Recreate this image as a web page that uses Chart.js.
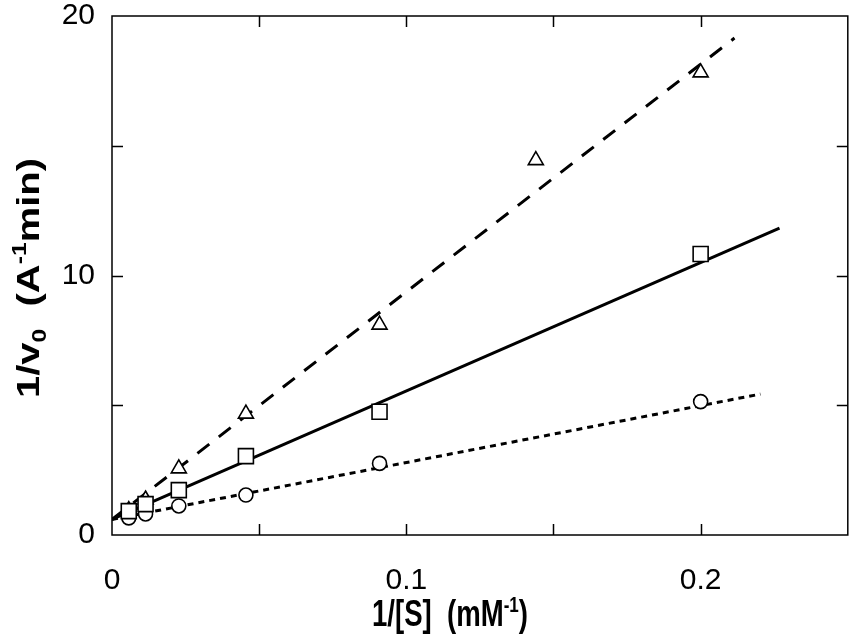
<!DOCTYPE html>
<html>
<head>
<meta charset="utf-8">
<script src="https://cdn.jsdelivr.net/npm/chart.js@4.4.1/dist/chart.umd.min.js"></script>
<style>
  html, body { margin: 0; padding: 0; background: #ffffff; }
  #wrap { width: 860px; height: 644px; }
</style>
</head>
<body>
<div id="wrap"><canvas id="c" width="860" height="644"></canvas></div>
<script>
// ---- data ----
const triX = [0.0057, 0.0114, 0.0227, 0.0455, 0.0909, 0.144, 0.2];
const triY = [0.95, 1.36, 2.56, 4.67, 8.10, 14.44, 17.82];
const sqX  = [0.0057, 0.0114, 0.0227, 0.0455, 0.0909, 0.2];
const sqY  = [0.92, 1.19, 1.73, 3.04, 4.75, 10.83];
const ciX  = [0.0057, 0.0114, 0.0227, 0.0455, 0.0909, 0.2];
const ciY  = [0.66, 0.81, 1.12, 1.54, 2.76, 5.14];
// fitted lines (end points)
const dashFitX  = [0, 0.2115];
const dashFitY  = [0.6, 19.15];
const solidFitX = [0, 0.2268];
const solidFitY = [0.6, 11.83];
const dotFitX   = [0, 0.2203];
const dotFitY   = [0.6, 5.43];
// axes
const xMin = 0, xMax = 0.25, xStep = 0.05;
const yMin = 0, yMax = 20, yStep = 5;
const xTickValues = [0, 0.1, 0.2];
const xTickLabels = ['0', '0.1', '0.2'];
const yTickValues = [0, 10, 20];
const yTickLabels = ['0', '10', '20'];

const toPts = (xs, ys) => xs.map((x, i) => ({x: x, y: ys[i]}));
const FONT = "'Liberation Sans', Arial, sans-serif";
const FONT_B = "'Liberation Sans', Arial, sans-serif";

function labelFor(v, vals, labels) {
  for (let i = 0; i < vals.length; i++) {
    if (Math.abs(v - vals[i]) < 1e-9) return labels[i];
  }
  return '';
}

function richWidth(ctx, parts, size) {
  let w = 0;
  for (const p of parts) {
    const s = p.mode ? size * 0.62 : size;
    ctx.font = 'bold ' + s + 'px ' + FONT_B;
    w += ctx.measureText(p.t).width;
  }
  return w;
}
function drawRich(ctx, parts, size) {
  let x = 0;
  for (const p of parts) {
    const s = p.mode ? size * 0.62 : size;
    ctx.font = 'bold ' + s + 'px ' + FONT_B;
    let dy = 0;
    if (p.mode === 'sup') dy = -size * 0.40;
    if (p.mode === 'sub') dy = size * 0.22;
    ctx.fillText(p.t, x, dy);
    x += ctx.measureText(p.t).width;
  }
}

const xTitleParts = [{t: '1/[S]  (mM'}, {t: '-1', mode: 'sup'}, {t: ')'}];
const yTitleParts = [{t: '1/v'}, {t: '0', mode: 'sub'}, {t: '  (A'}, {t: '-1', mode: 'sup'}, {t: 'min)'}];

const framePlugin = {
  id: 'frame',
  afterDraw(chart) {
    const ctx = chart.ctx;
    const a = chart.chartArea;
    const xs = chart.scales.x, ys = chart.scales.y;
    ctx.save();
    ctx.strokeStyle = '#000';
    ctx.lineWidth = 1.5;
    ctx.strokeRect(a.left, a.top, a.right - a.left, a.bottom - a.top);
    const TL = 11;
    ctx.beginPath();
    xs.ticks.forEach(t => {
      if (t.value <= xMin + 1e-9 || t.value >= xMax - 1e-9) return;
      const px = Math.round(xs.getPixelForValue(t.value)) + 0.5;
      ctx.moveTo(px, a.bottom); ctx.lineTo(px, a.bottom - TL);
      ctx.moveTo(px, a.top); ctx.lineTo(px, a.top + TL);
    });
    ys.ticks.forEach(t => {
      if (t.value <= yMin + 1e-9 || t.value >= yMax - 1e-9) return;
      const py = Math.round(ys.getPixelForValue(t.value)) + 0.5;
      ctx.moveTo(a.left, py); ctx.lineTo(a.left + TL, py);
      ctx.moveTo(a.right, py); ctx.lineTo(a.right - TL, py);
    });
    ctx.stroke();

    ctx.fillStyle = '#000';
    ctx.textBaseline = 'alphabetic';
    ctx.textAlign = 'left';
    {
      const size = 36;
      const w = richWidth(ctx, xTitleParts, size);
      const target = 156;
      ctx.save();
      ctx.translate(372, 626);
      ctx.scale(target / w, 1);
      drawRich(ctx, xTitleParts, size);
      ctx.restore();
    }
    {
      const size = 32;
      const w = richWidth(ctx, yTitleParts, size);
      const target = 240;
      ctx.save();
      ctx.translate(39, 398);
      ctx.rotate(-Math.PI / 2);
      ctx.scale(target / w, 1);
      drawRich(ctx, yTitleParts, size);
      ctx.restore();
    }
    ctx.restore();
  }
};

const ptCommon = {
  showLine: false,
  borderColor: '#000',
  backgroundColor: '#fff',
  borderWidth: 1.6,
  pointBorderColor: '#000',
  pointBackgroundColor: '#fff',
  pointBorderWidth: 1.6,
  pointHoverRadius: 0
};

new Chart(document.getElementById('c'), {
  type: 'scatter',
  data: {
    datasets: [
      { label: 'fit dashed', data: toPts(dashFitX, dashFitY), showLine: true, borderColor: '#000',
        borderWidth: 3, borderDash: [15, 12], pointRadius: 0, order: 5, borderCapStyle: 'butt' },
      { label: 'fit solid', data: toPts(solidFitX, solidFitY), showLine: true, borderColor: '#000',
        borderWidth: 3, pointRadius: 0, order: 5 },
      { label: 'fit dotted', data: toPts(dotFitX, dotFitY), showLine: true, borderColor: '#000',
        borderWidth: 3, borderDash: [6, 5], pointRadius: 0, order: 5, borderCapStyle: 'butt' },
      Object.assign({ label: 'circles', data: toPts(ciX, ciY), pointStyle: 'circle', pointRadius: 7, order: 3 }, ptCommon),
      Object.assign({ label: 'triangles', data: toPts(triX, triY), pointStyle: 'triangle', pointRadius: 8.7, order: 2 }, ptCommon),
      Object.assign({ label: 'squares', data: toPts(sqX, sqY), pointStyle: 'rect', pointRadius: 10.6, order: 1 }, ptCommon)
    ]
  },
  options: {
    responsive: false,
    animation: false,
    events: [],
    layout: { padding: { top: 16, right: 12, bottom: 0, left: 0 } },
    plugins: { legend: { display: false }, tooltip: { enabled: false }, title: { display: false } },
    scales: {
      x: {
        type: 'linear', min: xMin, max: xMax,
        grid: { display: false, drawTicks: false },
        border: { display: false },
        ticks: {
          stepSize: xStep, autoSkip: false, maxRotation: 0, padding: 31,
          color: '#000', font: { family: FONT, size: 30, lineHeight: 1 },
          callback: v => labelFor(v, xTickValues, xTickLabels)
        },
        afterFit(s) { s.height = 109; s.paddingLeft = 0; s.paddingRight = 0; }
      },
      y: {
        type: 'linear', min: yMin, max: yMax,
        grid: { display: false, drawTicks: false },
        border: { display: false },
        ticks: {
          stepSize: yStep, autoSkip: false, padding: 17,
          color: '#000', font: { family: FONT, size: 30, lineHeight: 1 },
          callback: v => labelFor(v, yTickValues, yTickLabels)
        },
        afterFit(s) { s.width = 112; s.paddingTop = 0; s.paddingBottom = 0; }
      }
    }
  },
  plugins: [framePlugin]
});
</script>
</body>
</html>
